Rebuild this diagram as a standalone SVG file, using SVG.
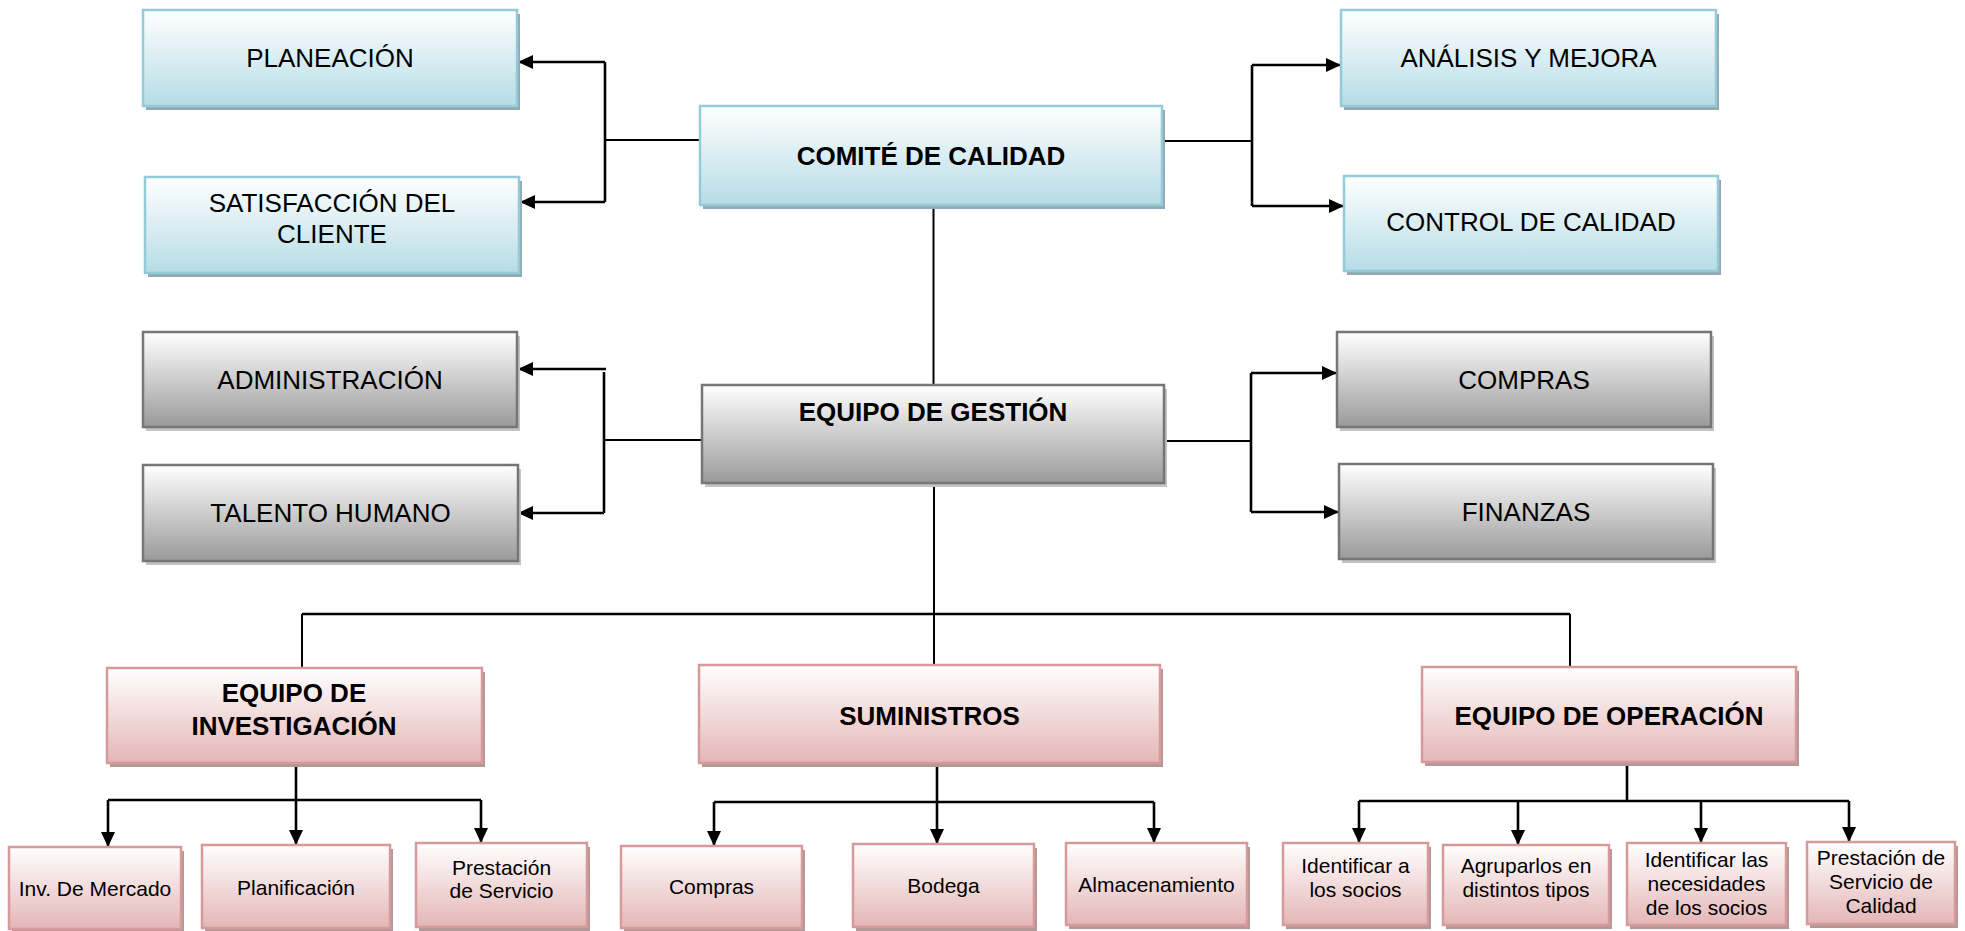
<svg xmlns="http://www.w3.org/2000/svg" width="1965" height="931" viewBox="0 0 1965 931">
<defs>
<linearGradient id="gBlue" x1="0" y1="0" x2="0" y2="1"><stop offset="0" stop-color="#ffffff"/><stop offset="1" stop-color="#b6dce6"/></linearGradient>
<linearGradient id="gGray" x1="0" y1="0" x2="0" y2="1"><stop offset="0" stop-color="#ffffff"/><stop offset="1" stop-color="#9a9a9a"/></linearGradient>
<linearGradient id="gPink" x1="0" y1="0" x2="0" y2="1"><stop offset="0" stop-color="#ffffff"/><stop offset="1" stop-color="#e4b6b6"/></linearGradient>
<marker id="arr" viewBox="0 0 15 14" refX="15" refY="7" markerWidth="15" markerHeight="14" orient="auto" markerUnits="userSpaceOnUse"><path d="M0,0 L15,7 L0,14 z" fill="#000"/></marker>
<style>
.blue{fill:url(#gBlue);stroke:#93cbd8;stroke-width:2.5}
.blueS{fill:#93a9b1}
.gray{fill:url(#gGray);stroke:#767676;stroke-width:2.5}
.grayS{fill:#c3c3c3}
.pink{fill:url(#gPink);stroke:#d7999a;stroke-width:2.5}
.pinkS{fill:#b39898}
text{font-family:"Liberation Sans",Arial,sans-serif;fill:#000;text-anchor:middle}
.t{font-size:26px}
.b{font-size:26px;font-weight:bold}
.s{font-size:21px}
.c{fill:none;stroke:#000;stroke-width:2}
.a{fill:none;stroke:#000;stroke-width:2.6}
.ah{fill:none;stroke:#000;stroke-width:2.6;marker-end:url(#arr)}
</style>
</defs>

<g id="connectors">
<!-- Comite left -->
<path class="c" d="M700,140 H605"/>
<path class="a" d="M605,62 V202"/>
<path class="ah" d="M605,62 H518"/>
<path class="ah" d="M605,202 H520"/>
<!-- Comite right -->
<path class="c" d="M1162,141 H1252"/>
<path class="a" d="M1252,65 V206"/>
<path class="ah" d="M1252,65 H1341"/>
<path class="ah" d="M1252,206 H1344"/>
<!-- Comite to Gestion -->
<path class="c" d="M933.5,205 V385"/>
<!-- Gestion left -->
<path class="c" d="M702,440 H604"/>
<path class="a" d="M604,372 V513"/>
<path class="ah" d="M606,369 H518"/>
<path class="ah" d="M604,513 H518"/>
<!-- Gestion right -->
<path class="c" d="M1164,441 H1251"/>
<path class="a" d="M1251,373 V512"/>
<path class="ah" d="M1251,373 H1337"/>
<path class="ah" d="M1251,512 H1339"/>
<!-- Gestion bottom -->
<path class="c" d="M934,483 V665"/>
<path class="a" d="M302,614 H1570"/>
<path class="c" d="M302,614 V668"/>
<path class="c" d="M1570,614 V667"/>
<!-- Investigacion -->
<path class="ah" d="M296,763 V845"/>
<path class="a" d="M108,800 H481"/>
<path class="ah" d="M108,800 V847"/>
<path class="ah" d="M481,800 V843"/>
<!-- Suministros -->
<path class="ah" d="M937,763 V844"/>
<path class="a" d="M714,802 H1154"/>
<path class="ah" d="M714,802 V846"/>
<path class="ah" d="M1154,802 V843"/>
<!-- Operacion -->
<path class="a" d="M1627,762 V801"/>
<path class="a" d="M1359,801 H1849"/>
<path class="ah" d="M1359,801 V843"/>
<path class="ah" d="M1518,801 V845"/>
<path class="ah" d="M1701,801 V843"/>
<path class="ah" d="M1849,801 V842"/>
</g>

<g id="planeacion">
<rect class="blueS" x="146" y="14" width="374" height="96"/>
<rect class="blue" x="143" y="10" width="374" height="96"/>
<text class="t" x="330" y="67">PLANEACIÓN</text>
</g>
<g id="satisfaccion">
<rect class="blueS" x="148" y="181" width="374" height="96"/>
<rect class="blue" x="145" y="177" width="374" height="96"/>
<text class="t" x="332" y="212">SATISFACCIÓN DEL</text>
<text class="t" x="332" y="243">CLIENTE</text>
</g>
<g id="comite">
<rect class="blueS" x="703" y="110" width="462" height="99"/>
<rect class="blue" x="700" y="106" width="462" height="99"/>
<text class="b" x="931" y="165">COMITÉ DE CALIDAD</text>
</g>
<g id="analisis">
<rect class="blueS" x="1344" y="14" width="375" height="96"/>
<rect class="blue" x="1341" y="10" width="375" height="96"/>
<text class="t" x="1528.5" y="67">ANÁLISIS Y MEJORA</text>
</g>
<g id="control">
<rect class="blueS" x="1347" y="180" width="374" height="95"/>
<rect class="blue" x="1344" y="176" width="374" height="95"/>
<text class="t" x="1531" y="231">CONTROL DE CALIDAD</text>
</g>

<g id="administracion">
<rect class="grayS" x="146" y="336" width="374" height="95"/>
<rect class="gray" x="143" y="332" width="374" height="95"/>
<text class="t" x="330" y="389">ADMINISTRACIÓN</text>
</g>
<g id="talento">
<rect class="grayS" x="146" y="469" width="375" height="96"/>
<rect class="gray" x="143" y="465" width="375" height="96"/>
<text class="t" x="330.5" y="522">TALENTO HUMANO</text>
</g>
<g id="gestion">
<rect class="grayS" x="705" y="389" width="462" height="98"/>
<rect class="gray" x="702" y="385" width="462" height="98"/>
<text class="b" x="933" y="421">EQUIPO DE GESTIÓN</text>
</g>
<g id="compras-top">
<rect class="grayS" x="1340" y="336" width="374" height="95"/>
<rect class="gray" x="1337" y="332" width="374" height="95"/>
<text class="t" x="1524" y="389">COMPRAS</text>
</g>
<g id="finanzas">
<rect class="grayS" x="1342" y="468" width="374" height="95"/>
<rect class="gray" x="1339" y="464" width="374" height="95"/>
<text class="t" x="1526" y="521">FINANZAS</text>
</g>

<g id="investigacion">
<rect class="pinkS" x="110" y="672" width="375" height="95"/>
<rect class="pink" x="107" y="668" width="375" height="95"/>
<text class="b" x="294" y="702">EQUIPO DE</text>
<text class="b" x="294" y="735">INVESTIGACIÓN</text>
</g>
<g id="suministros">
<rect class="pinkS" x="702" y="669" width="461" height="98"/>
<rect class="pink" x="699" y="665" width="461" height="98"/>
<text class="b" x="929.5" y="725">SUMINISTROS</text>
</g>
<g id="operacion">
<rect class="pinkS" x="1425" y="671" width="374" height="95"/>
<rect class="pink" x="1422" y="667" width="374" height="95"/>
<text class="b" x="1609" y="725">EQUIPO DE OPERACIÓN</text>
</g>

<g id="inv-mercado">
<rect class="pinkS" x="12" y="851" width="172" height="82"/>
<rect class="pink" x="9" y="847" width="172" height="82"/>
<text class="s" x="95" y="896">Inv. De Mercado</text>
</g>
<g id="planificacion">
<rect class="pinkS" x="205" y="849" width="188" height="83"/>
<rect class="pink" x="202" y="845" width="188" height="83"/>
<text class="s" x="296" y="895">Planificación</text>
</g>
<g id="prestacion-servicio">
<rect class="pinkS" x="419" y="847" width="171" height="84"/>
<rect class="pink" x="416" y="843" width="171" height="84"/>
<text class="s" x="501.5" y="875">Prestación</text>
<text class="s" x="501.5" y="898">de Servicio</text>
</g>
<g id="compras-bottom">
<rect class="pinkS" x="624" y="850" width="181" height="82"/>
<rect class="pink" x="621" y="846" width="181" height="82"/>
<text class="s" x="711.5" y="894">Compras</text>
</g>
<g id="bodega">
<rect class="pinkS" x="856" y="848" width="181" height="83"/>
<rect class="pink" x="853" y="844" width="181" height="83"/>
<text class="s" x="943.5" y="893">Bodega</text>
</g>
<g id="almacenamiento">
<rect class="pinkS" x="1069" y="847" width="181" height="82"/>
<rect class="pink" x="1066" y="843" width="181" height="82"/>
<text class="s" x="1156.5" y="892">Almacenamiento</text>
</g>
<g id="identificar-socios">
<rect class="pinkS" x="1286" y="847" width="145" height="82"/>
<rect class="pink" x="1283" y="843" width="145" height="82"/>
<text class="s" x="1355.5" y="873">Identificar a</text>
<text class="s" x="1355.5" y="897">los socios</text>
</g>
<g id="agruparlos">
<rect class="pinkS" x="1446" y="849" width="166" height="80"/>
<rect class="pink" x="1443" y="845" width="166" height="80"/>
<text class="s" x="1526" y="873">Agruparlos en</text>
<text class="s" x="1526" y="897">distintos tipos</text>
</g>
<g id="necesidades">
<rect class="pinkS" x="1630" y="847" width="159" height="82"/>
<rect class="pink" x="1627" y="843" width="159" height="82"/>
<text class="s" x="1706.5" y="867">Identificar las</text>
<text class="s" x="1706.5" y="891">necesidades</text>
<text class="s" x="1706.5" y="915">de los socios</text>
</g>
<g id="prestacion-calidad">
<rect class="pinkS" x="1810" y="846" width="148" height="82"/>
<rect class="pink" x="1807" y="842" width="148" height="82"/>
<text class="s" x="1881" y="865">Prestación de</text>
<text class="s" x="1881" y="889">Servicio de</text>
<text class="s" x="1881" y="913">Calidad</text>
</g>
</svg>
